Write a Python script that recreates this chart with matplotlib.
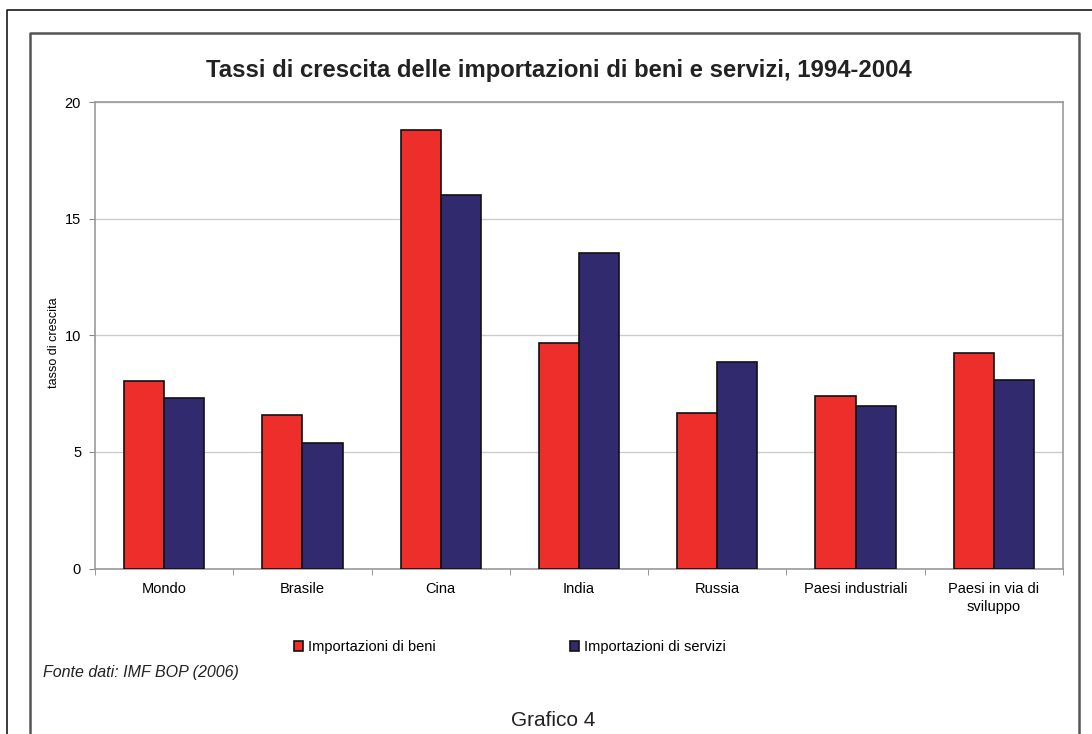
import matplotlib
matplotlib.use('Agg')
import matplotlib.pyplot as plt
from matplotlib.lines import Line2D
import numpy as np

plt.rcParams['font.family'] = ['Liberation Sans', 'DejaVu Sans']

# tassi medi di crescita 1994-2004 (%)
paesi = ['Mondo', 'Brasile', 'Cina', 'India', 'Russia',
         'Paesi industriali', 'Paesi in via di\nsviluppo']
beni = [8.06, 6.58, 18.81, 9.69, 6.68, 7.40, 9.24]
servizi = [7.30, 5.38, 16.02, 13.55, 8.87, 6.98, 8.09]

col_beni = '#EE2E2A'
col_servizi = '#312A6E'

fig = plt.figure(figsize=(10.92, 7.34), dpi=100)
ax = fig.add_axes([95 / 1092, 1 - 568.5 / 734, (1063 - 95) / 1092, (568.5 - 102.3) / 734])

x = np.arange(len(paesi))
w = 0.29
ax.bar(x - w / 2, beni, w, color=col_beni, edgecolor='#111111', linewidth=1.2,
       label='Importazioni di beni', zorder=3)
ax.bar(x + w / 2, servizi, w, color=col_servizi, edgecolor='#111111', linewidth=1.2,
       label='Importazioni di servizi', zorder=3)

ax.set_xlim(-0.5, len(paesi) - 0.5)
ax.set_ylim(0, 20)
ax.set_yticks([0, 5, 10, 15, 20])
ax.yaxis.grid(True, color='#cccccc', linewidth=1, zorder=0)
ax.set_axisbelow(True)

# categorie sotto l'asse, tacche tra un gruppo e l'altro
ax.set_xticks(x)
ax.set_xticklabels(paesi, fontsize=10.5, linespacing=1.35)
ax.tick_params(axis='x', length=0, pad=10)
ax.set_xticks(np.arange(len(paesi) + 1) - 0.5, minor=True)
ax.tick_params(axis='x', which='minor', length=4, color='#888888', direction='out')
ax.tick_params(axis='y', length=4, color='#888888', labelsize=10.5, pad=6)

for s in ax.spines.values():
    s.set_color('#999999')
    s.set_linewidth(1.2)

ax.set_ylabel('tasso di crescita', fontsize=9)
ax.yaxis.set_label_coords(-0.036, 0.485)

fig.text(559 / 1092, 1 - 70 / 734, 'Tassi di crescita delle importazioni di beni e servizi, 1994-2004',
         ha='center', va='center', fontsize=17.2, fontweight='bold', color='#222222')

fig.legend(loc='center left', bbox_to_anchor=(294 / 1092, 1 - 647 / 734), ncol=2,
           frameon=False, fontsize=10.5, handlelength=0.65, handleheight=0.65,
           handletextpad=0.3, columnspacing=9.2, borderpad=0, borderaxespad=0)

fig.text(43 / 1092, 1 - 672 / 734, 'Fonte dati: IMF BOP (2006)', fontsize=11.5, style='italic',
         ha='left', va='center', color='#222222')
fig.text(553 / 1092, 1 - 720 / 734, 'Grafico 4', fontsize=15, ha='center', va='center',
         color='#222222')

# cornici della pagina
W, H = 1092, 734
fig.add_artist(Line2D([7 / W, 7 / W, 1], [0, 1 - 10 / H, 1 - 10 / H],
                      transform=fig.transFigure, color='#1a1a1a', linewidth=1.2))
fig.add_artist(Line2D([30 / W, 30 / W, 1079 / W, 1079 / W], [0, 1 - 33 / H, 1 - 33 / H, 0],
                      transform=fig.transFigure, color='#555555', linewidth=1.8))

fig.savefig('out.png', dpi=100)
